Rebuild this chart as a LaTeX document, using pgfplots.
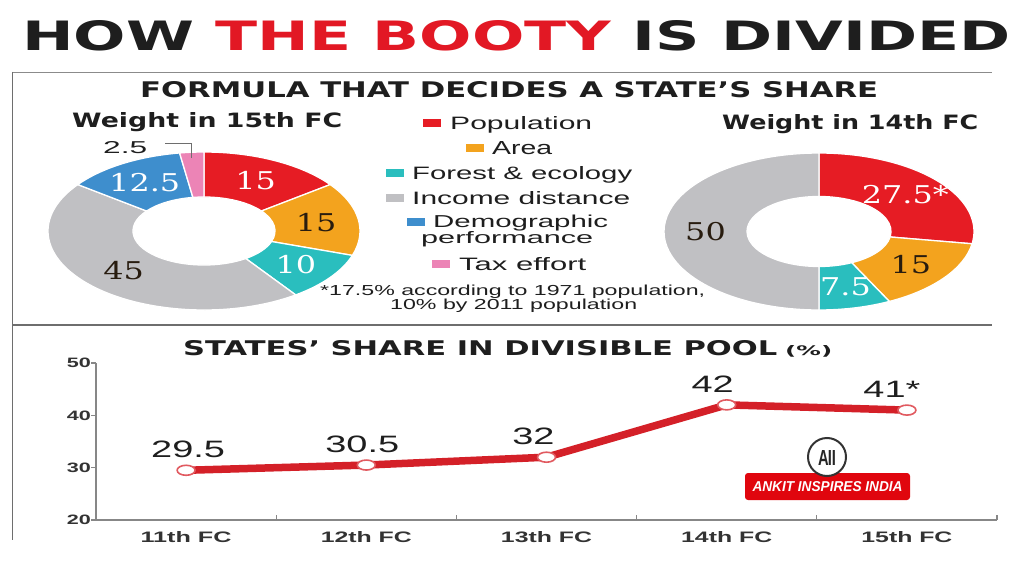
\documentclass[border=0pt]{standalone}
\usepackage{graphicx}
\usepackage{pgfplots}
\pgfplotsset{compat=1.18}
\usepackage{pgfplotstable}
\usepackage{fontspec}
\setmainfont{Liberation Sans}
\newfontfamily\numfont{DejaVu Serif}
\newfontfamily\headfont{DejaVu Sans}
\usetikzlibrary{calc}

\definecolor{titlered}{RGB}{226,24,36}
\definecolor{txtdark}{RGB}{30,30,30}
\definecolor{numdark}{RGB}{40,28,15}
\definecolor{cPop}{RGB}{230,28,36}
\definecolor{cArea}{RGB}{243,163,30}
\definecolor{cForest}{RGB}{42,190,190}
\definecolor{cIncome}{RGB}{192,192,195}
\definecolor{cDemo}{RGB}{62,142,205}
\definecolor{cTax}{RGB}{236,132,182}
\definecolor{framegray}{RGB}{110,110,110}
\definecolor{axisgray}{RGB}{135,135,135}
\definecolor{lineRed}{RGB}{212,32,40}
\definecolor{markRed}{RGB}{225,90,96}
\definecolor{wmred}{RGB}{224,6,14}

% ---------- data ----------
\pgfplotstableread{
value col txt lab
15 cPop white 15
15 cArea numdark 15
10 cForest white 10
45 cIncome numdark 45
12.5 cDemo white 12.5
2.5 cTax numdark 2.5
}\fcA

\pgfplotstableread{
value col txt lab
27.5 cPop white 27.5*
15 cArea numdark 15
7.5 cForest white 7.5
50 cIncome numdark 50
}\fcB

\pgfplotstableread{
x y lab dx
0 29.5 29.5 2
1 30.5 30.5 -4
2 32 32 -13
3 42 42 -14
4 41 41* -15
}\share

\newcommand\slab[1]{\scalebox{1.3}[1]{\fontsize{24.5pt}{25pt}\selectfont\numfont #1}}

% #1 table, #2 rx, #3 ry, #4 inner rx, #5 inner ry (all in pt, numbers)
\newcommand\drawdonut[5]{%
  \pgfplotstablegetrowsof{#1}%
  \pgfmathtruncatemacro\nrows{\pgfplotsretval-1}%
  \pgfmathsetmacro\rmx{(#2+#4)/2}%
  \pgfmathsetmacro\rmy{(#3+#5)/2}%
  \xdef\cum{0}%
  \foreach \i in {0,...,\nrows}{%
    \pgfplotstablegetelem{\i}{value}\of{#1}\let\slval\pgfplotsretval
    \pgfplotstablegetelem{\i}{col}\of{#1}\let\slcol\pgfplotsretval
    \pgfplotstablegetelem{\i}{txt}\of{#1}\let\sltxt\pgfplotsretval
    \pgfplotstablegetelem{\i}{lab}\of{#1}\let\sllab\pgfplotsretval
    \pgfmathsetmacro\angA{90-3.6*\cum}%
    \pgfmathsetmacro\angB{90-3.6*(\cum+\slval)}%
    \pgfmathsetmacro\angM{(\angA+\angB)/2}%
    \pgfmathsetmacro\dxr{#4-#2}%
    \pgfmathsetmacro\dyr{#5-#3}%
    \edef\temp{\noexpand\fill[\slcol, draw=white, line width=1.3pt] (axis cs:0,0) ++(\angA:#2pt and #3pt) arc[start angle=\angA, end angle=\angB, x radius=#2pt, y radius=#3pt] -- ++(\angB:\dxr pt and \dyr pt) arc[start angle=\angB, end angle=\angA, x radius=#4pt, y radius=#5pt] -- cycle;}%
    \temp
    \pgfmathtruncatemacro\showlab{\slval>4 ? 1 : 0}%
    \ifnum\showlab=1
      \edef\temp{\noexpand\node[text=\sltxt, inner sep=0pt] at ($(axis cs:0,0)+(\angM:\rmx pt and \rmy pt)$) {\noexpand\slab{\sllab}};}%
      \temp
    \fi
    \pgfmathsetmacro\newcum{\cum+\slval}\xdef\cum{\newcum}%
  }}

\newcommand\legitem[7]{%
  \fill[#4] (#1,576-#3-4) rectangle (#2,576-#3+4);
  \node[anchor=base west, inner sep=0pt, text=txtdark] at (#5,576-#3-6.5) {\resizebox{#6pt}{13pt}{#7}};}

\newcommand\xtl[1]{\resizebox{91pt}{11pt}{\bfseries #1}}
\newcommand\ytl[1]{\resizebox{24pt}{9.5pt}{\bfseries #1}}

\begin{document}
\begin{tikzpicture}[x=1pt,y=1pt]
\useasboundingbox[fill=white] (0,0) rectangle (1024,576);
\coordinate (cA) at (204,576-231);
\coordinate (cB) at (819,576-231.5);
\coordinate (cL) at (96,576-520);

% title
\node[anchor=south west, inner sep=0pt, text=txtdark] at (22,576-51)
  {\resizebox{988pt}{30pt}{\headfont\bfseries HOW \textcolor{titlered}{THE BOOTY} IS DIVIDED}};

% frame
\draw[framegray!80, line width=1.4pt] (12,576-72.5) -- (992,576-72.5);
\draw[framegray, line width=1.6pt] (12.5,576-72) -- (12.5,576-540);
\draw[framegray, line width=1.4pt] (12,576-325) -- (992,576-325);

% headings
\node[anchor=south west, inner sep=0pt, text=txtdark] at (140,576-98)
  {\resizebox{738pt}{16pt}{\headfont\bfseries FORMULA THAT DECIDES A STATE’S SHARE}};
\node[anchor=base west, inner sep=0pt, text=txtdark] at (72,576-128)
  {\resizebox{270pt}{15pt}{\headfont\bfseries Weight in 15th FC}};
\node[anchor=base west, inner sep=0pt, text=txtdark] at (722,576-130)
  {\resizebox{256pt}{15pt}{\headfont\bfseries Weight in 14th FC}};

% donut 15th FC
\begin{axis}[at={(cA)}, anchor=center, hide axis, scale only axis,
  width=312pt, height=158pt, xmin=-1, xmax=1, ymin=-1, ymax=1, clip=false]
\addplot[draw=none] coordinates {(0,0)};
\drawdonut{\fcA}{156}{79}{71}{34}
\end{axis}

% donut 14th FC
\begin{axis}[at={(cB)}, anchor=center, hide axis, scale only axis,
  width=312pt, height=158pt, xmin=-1, xmax=1, ymin=-1, ymax=1, clip=false]
\addplot[draw=none] coordinates {(0,0)};
\drawdonut{\fcB}{155}{78.5}{72}{35}
\end{axis}

% 2.5 label with leader
\node[anchor=base west, inner sep=0pt, text=txtdark] at (103,576-154) {\resizebox{44pt}{12pt}{2.5}};
\draw[framegray, line width=1pt] (165,576-143.5) -- (191,576-143.5) -- (191,576-158);

% legend
\legitem{423}{441}{123}{cPop}{450}{142}{Population}
\legitem{466}{484}{148}{cArea}{492}{60}{Area}
\legitem{386}{404}{173}{cForest}{412}{220}{Forest \& ecology}
\legitem{386}{404}{198}{cIncome}{412}{218}{Income distance}
\fill[cDemo] (407,576-226) rectangle (425,576-218);
\node[anchor=base west, inner sep=0pt, text=txtdark] at (433,576-228) {\resizebox{175pt}{12.5pt}{Demographic}};
\node[anchor=base west, inner sep=0pt, text=txtdark] at (421,576-244) {\resizebox{172pt}{12pt}{performance}};
\legitem{432}{450}{264}{cTax}{459}{127}{Tax effort}

% footnote
\node[anchor=base west, inner sep=0pt, text=txtdark] at (320,576-296) {\resizebox{385pt}{10.5pt}{*17.5\% according to 1971 population,}};
\node[anchor=base west, inner sep=0pt, text=txtdark] at (390,576-310) {\resizebox{247pt}{10.5pt}{10\% by 2011 population}};

% line chart heading
\node[anchor=south west, inner sep=0pt, text=txtdark] at (183,576-356)
  {\resizebox{594pt}{15pt}{\headfont\bfseries STATES’ SHARE IN DIVISIBLE POOL}};
\node[anchor=base west, inner sep=0pt, text=txtdark] at (785,576-355)
  {\resizebox{47pt}{10pt}{\headfont\bfseries (\%)}};

% line chart
\begin{axis}[at={(cL)}, anchor=south west, scale only axis,
  width=901pt, height=157pt,
  xmin=-0.5, xmax=4.5, ymin=20, ymax=50,
  axis lines*=left,
  axis line style={draw=axisgray, line width=1.3pt},
  xtick={-0.5,0.5,1.5,2.5,3.5,4.5},
  x tick label as interval,
  xticklabels={\xtl{11th FC},\xtl{12th FC},\xtl{13th FC},\xtl{14th FC},\xtl{15th FC}},
  ytick={20,30,40,50},
  yticklabels={\ytl{20},\ytl{30},\ytl{40},\ytl{50}},
  tick align=outside,
  major tick length=5pt,
  tick style={draw=axisgray, line width=1.3pt},
  x tick style={yshift=5pt},
  xticklabel style={inner sep=0pt, anchor=north, yshift=-6.5pt, text=black!80},
  yticklabel style={inner sep=0pt, anchor=east, text=black!80},
  clip=false,
]
\addplot[draw=lineRed, line width=7.5pt,
  mark=*, mark size=5pt,
  mark options={fill=white, draw=markRed, line width=1.6pt, xscale=1.8},
  point meta=explicit symbolic,
  visualization depends on=\thisrow{dx} \as \dxv,
  nodes near coords={\scalebox{1.6}[1]{\fontsize{23.7pt}{24pt}\selectfont\pgfplotspointmeta}},
  every node near coord/.append style={anchor=south, inner sep=0pt, yshift=11.5pt, xshift=\dxv pt, text=txtdark},
] table[x=x, y=y, meta=lab] {\share};
\end{axis}

% watermark
\fill[wmred, rounded corners=3pt] (745,576-500) rectangle (910,576-473);
\node[text=white, inner sep=0pt] at (827.5,576-486.5) {\resizebox{150pt}{10pt}{\bfseries\itshape ANKIT INSPIRES INDIA}};
\draw[fill=white, draw=black!80, line width=2pt] (827,576-457) circle (19pt);
\node[inner sep=0pt, text=black!85] at (827,576-458) {\resizebox{18pt}{15pt}{\bfseries A\kern-0.5pt II}};
\end{tikzpicture}
\end{document}
